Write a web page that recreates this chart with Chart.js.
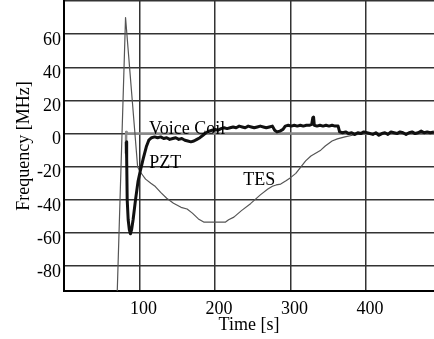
<!DOCTYPE html>
<html>
<head>
<meta charset="utf-8">
<script src="https://cdn.jsdelivr.net/npm/chart.js@4.4.1/dist/chart.umd.min.js"></script>
<style>
  html, body { margin: 0; padding: 0; background: #fff; }
  #chart { display: block; }
</style>
</head>
<body>
<canvas id="chart" width="434" height="339"></canvas>
<script>
// Time [s] / frequency [MHz]
const pztTime = [82.5, 83, 83.7, 85, 86.5, 88, 89.5, 91.5, 94.7, 98, 101.3, 105, 109, 112.3, 116, 120,
  124, 128, 132, 136, 140, 144, 148, 152, 156, 160, 164, 168, 172, 176, 180, 184, 188, 192, 196,
  200, 204, 208, 212, 216, 220, 224, 228, 232, 236, 240, 244, 248, 252, 256, 260, 264, 268, 272,
  276, 279, 282, 286, 290, 293, 297, 301, 305, 309, 313, 317, 321, 325, 328, 329.5, 330.5, 331.5,
  335, 339, 343, 347, 351, 355, 359, 363, 365, 369, 373, 377, 381, 385, 389, 393, 397, 401, 405,
  409, 413, 417, 421, 425, 429, 433, 437, 441, 445, 449, 453, 457, 461, 465, 469, 473, 477, 481,
  485, 490]
const pztFreq = [-5, -15, -40, -52, -58, -60.5, -58, -52, -40, -29, -22, -15, -8, -4, -2.5, -2,
  -2.5, -2, -3, -2.5, -3.5, -3, -2.5, -3.5, -3, -4, -4.5, -5, -4.5, -3.5, -2.5, -1, 0.5, 1.5, 2,
  2.5, 2, 3, 3.5, 3, 3.5, 4, 3.5, 4.5, 4, 3.5, 4.5, 4, 3.5, 4, 4.5, 4, 3.5, 4,
  4.5, 2, 1, 1.5, 2.5, 4.5, 5, 4.5, 5, 4.5, 5, 4.5, 5, 5, 5.5, 9.5, 10, 5,
  4.5, 5, 4.5, 5, 4.5, 5, 4.5, 4.5, 1, 0.5, 1, 0, 0.5, -0.5, 0.5, 0, 1, 0.5, 0,
  -0.5, 0.5, -1, 0, 0.5, -0.5, 1, 0.5, 0, 1, 0.5, -0.5, 0.5, 1, 0, 0.5, 1.5, 0.5, 1,
  0.5, 1]

const tesTime = [70, 81.5, 82, 97.5, 100, 104, 108, 115, 121, 128, 136, 145, 155, 163, 170, 178,
  185, 214, 218, 225, 235, 247, 260, 270, 276, 281, 287, 294, 300, 307, 313, 320, 327, 340, 346,
  355, 362, 372, 382, 392, 400, 490]
const tesFreq = [-103, 70, 70, -20, -22.5, -25, -27.5, -30, -32, -35.5, -39, -42, -44.5, -45.5, -48, -51.5,
  -53.4, -53.4, -52, -50.4, -46.5, -42.3, -37, -33.5, -31.8, -31, -30.5, -28.5, -26.6, -24, -20.5, -16.5, -13.5, -10, -7.5,
  -4.5, -3.2, -2, -1, -0.3, 0, 0]

const coilTime = [82, 82.3, 83, 490]
const coilFreq = [-12, 1, 0, 0]

const xTicks = [100, 200, 300, 400]
const yTicks = [-80, -60, -40, -20, 0, 20, 40, 60]

function points(xs, ys) {
  return xs.map((x, i) => ({ x: x, y: ys[i] }))
}

// curve names written next to the traces (data units, text baseline)
const curveNotes = {
  id: 'curveNotes',
  notes: [
    { text: 'Voice Coil', x: 112.6, y: 0 },
    { text: 'PZT', x: 113, y: -21 },
    { text: 'TES', x: 237.4, y: -31.2 }
  ],
  afterDatasetsDraw(chart) {
    const { ctx } = chart
    const xs = chart.scales.x
    const ys = chart.scales.y
    ctx.save()
    ctx.font = '18px "Liberation Serif"'
    ctx.fillStyle = '#000'
    ctx.textBaseline = 'alphabetic'
    this.notes.forEach(n => {
      ctx.fillText(n.text, xs.getPixelForValue(n.x), ys.getPixelForValue(n.y))
    })
    ctx.restore()
  }
}

Chart.defaults.font.family = '"Liberation Serif", "Times New Roman", serif'
Chart.defaults.color = '#000'

const lineStyle = { pointRadius: 0, fill: false, tension: 0, borderJoinStyle: 'round' }

new Chart(document.getElementById('chart'), {
  type: 'line',
  data: {
    datasets: [
      { ...lineStyle, label: 'PZT', data: points(pztTime, pztFreq), borderColor: '#111', borderWidth: 3 },
      { ...lineStyle, label: 'TES', data: points(tesTime, tesFreq), borderColor: '#555', borderWidth: 1.2 },
      { ...lineStyle, label: 'Voice Coil', data: points(coilTime, coilFreq), borderColor: '#8a8a8a', borderWidth: 2.5 }
    ]
  },
  options: {
    responsive: false,
    animation: false,
    layout: { padding: { top: 1, right: 0, bottom: 0, left: 0 } },
    plugins: {
      legend: { display: false },
      tooltip: { enabled: false }
    },
    scales: {
      x: {
        type: 'linear',
        min: 0,
        max: 490,
        afterBuildTicks: scale => { scale.ticks = xTicks.map(v => ({ value: v })) },
        afterFit: scale => { scale.paddingLeft = 0; scale.paddingRight = 0; scale.height = 48 },
        grid: { color: '#333', lineWidth: 1.5, drawTicks: false },
        border: { color: '#000', width: 2 },
        ticks: { font: { size: 18, lineHeight: 1 }, padding: 9, labelOffset: 4, maxRotation: 0 },
        title: { display: true, text: 'Time [s]', font: { size: 18, lineHeight: 1 }, padding: { top: 1, bottom: 5 } }
      },
      y: {
        min: -95,
        max: 80,
        afterBuildTicks: scale => { scale.ticks = [...yTicks, 80].map(v => ({ value: v })) },
        afterFit: scale => { scale.paddingTop = 0; scale.paddingBottom = 0; scale.width = 64 },
        grid: { color: '#333', lineWidth: 1.5, drawTicks: false },
        border: { color: '#000', width: 2 },
        ticks: {
          font: { size: 18 },
          padding: 3,
          labelOffset: 6,
          callback: v => yTicks.includes(v) ? String(v) : ''
        },
        title: { display: true, text: 'Frequency [MHz]', font: { size: 18 }, padding: { top: 13, bottom: 3 } }
      }
    }
  },
  plugins: [curveNotes]
})
</script>
</body>
</html>
